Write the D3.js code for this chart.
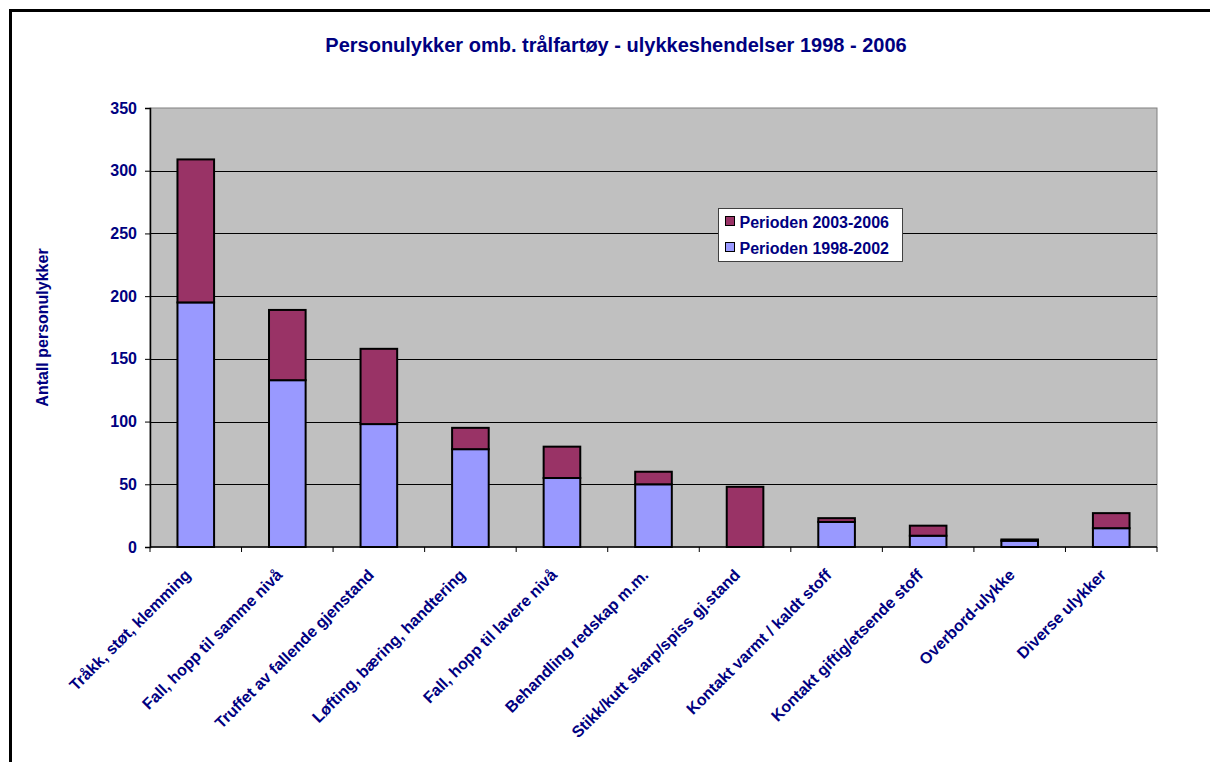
<!DOCTYPE html>
<html>
<head>
<meta charset="utf-8">
<script src="https://cdn.jsdelivr.net/npm/d3@7"></script>
<style>
  body { margin: 0; background: #fff; }
  text { font-family: Arial, "Liberation Sans", sans-serif; font-weight: bold; fill: #000080; }
</style>
</head>
<body>
<script>
// categories and the two periods (stacked)
const categories = [
    "Tråkk, støt, klemming",
    "Fall, hopp til samme nivå",
    "Truffet av fallende  gjenstand",
    "Løfting, bæring, handtering",
    "Fall, hopp til lavere nivå",
    "Behandling redskap m.m.",
    "Stikk/kutt skarp/spiss gj.stand",
    "Kontakt varmt / kaldt stoff",
    "Kontakt giftig/etsende stoff",
    "Overbord-ulykke",
    "Diverse ulykker"
];
const period1998 = [195, 133, 98, 78, 55, 50, 0, 20, 9, 5, 15];
const period2003 = [114, 56, 60, 17, 25, 10, 48, 3, 8, 1, 12];
const yTicks = [0, 50, 100, 150, 200, 250, 300, 350];

const seriesNames = ["Perioden 1998-2002", "Perioden 2003-2006"];
const colors = ["#9999FF", "#993366"];

const W = 1210, H = 762;
const plot = {left: 150, top: 108, right: 1157, bottom: 547};

let svg = d3.select("body").append("svg")
    .attr("width", W)
    .attr("height", H);

// outer chart frame (right and bottom edges run off the picture)
svg.append("rect")
    .attr("x", 10.5).attr("y", 10.5)
    .attr("width", 1260).attr("height", 800)
    .attr("fill", "#fff")
    .attr("stroke", "#000")
    .attr("stroke-width", 3);

svg.append("text")
    .attr("x", 616).attr("y", 52)
    .attr("text-anchor", "middle")
    .style("font-size", "20px")
    .text("Personulykker omb. trålfartøy - ulykkeshendelser 1998 - 2006");

let x = d3.scaleBand()
    .domain(categories)
    .range([plot.left, plot.right])
    .paddingInner(0.6)
    .paddingOuter(0.3);

let y = d3.scaleLinear()
    .domain([0, 350])
    .range([plot.bottom, plot.top]);

// plot background
svg.append("rect")
    .attr("x", plot.left).attr("y", plot.top)
    .attr("width", plot.right - plot.left).attr("height", plot.bottom - plot.top)
    .attr("fill", "#C0C0C0")
    .attr("stroke", "#808080");

// gridlines
svg.append("g").selectAll("line")
    .data(yTicks.filter(d => d > 0 && d < 350))
    .join("line")
    .attr("x1", plot.left).attr("x2", plot.right)
    .attr("y1", d => Math.round(y(d)) + 0.5).attr("y2", d => Math.round(y(d)) + 0.5)
    .attr("stroke", "#000")
    .attr("stroke-width", 1);

// stacked bars
let rows = categories.map((c, i) => ({cat: c, a: period1998[i], b: period2003[i]}));
let stack = d3.stack().keys(["a", "b"])(rows);

svg.append("g").selectAll("g")
    .data(stack)
    .join("g")
    .attr("fill", (d, i) => colors[i])
    .selectAll("rect")
    .data(d => d.filter(s => s[1] - s[0] > 0))
    .join("rect")
    .attr("x", d => x(d.data.cat))
    .attr("y", d => y(d[1]))
    .attr("width", x.bandwidth())
    .attr("height", d => y(d[0]) - y(d[1]))
    .attr("stroke", "#000")
    .attr("stroke-width", 2);

// y axis
let yAxis = svg.append("g")
    .attr("transform", "translate(" + plot.left + ",0)")
    .call(d3.axisLeft(y).tickValues(yTicks).tickSize(5).tickPadding(8));
yAxis.selectAll("text").style("font-size", "16px").attr("fill", "#000080");
yAxis.select(".domain").attr("stroke", "#000").attr("stroke-width", 1.5);

// x axis with ticks at category boundaries
let bounds = d3.range(categories.length + 1).map(i => plot.left + i * (plot.right - plot.left) / categories.length);
svg.append("line")
    .attr("x1", plot.left).attr("x2", plot.right)
    .attr("y1", plot.bottom).attr("y2", plot.bottom)
    .attr("stroke", "#000").attr("stroke-width", 1.5);
svg.append("g").selectAll("line")
    .data(bounds)
    .join("line")
    .attr("x1", d => d).attr("x2", d => d)
    .attr("y1", plot.bottom).attr("y2", plot.bottom + 5)
    .attr("stroke", "#000");

svg.append("g").selectAll("text")
    .data(categories)
    .join("text")
    .attr("text-anchor", "end")
    .style("font-size", "16px")
    .attr("transform", d => "translate(" + (x(d) + x.bandwidth() / 2 - 4) + "," + (plot.bottom + 29) + ") rotate(-45)")
    .text(d => d);

// y axis title
svg.append("text")
    .attr("transform", "translate(48," + ((plot.top + plot.bottom) / 2) + ") rotate(-90)")
    .attr("text-anchor", "middle")
    .style("font-size", "16px")
    .text("Antall personulykker");

// legend
let legend = svg.append("g").attr("transform", "translate(718.5,208.5)");
legend.append("rect")
    .attr("width", 184).attr("height", 53)
    .attr("fill", "#fff").attr("stroke", "#404040");
let items = [1, 0];
legend.selectAll("g.item")
    .data(items)
    .join("g")
    .attr("class", "item")
    .attr("transform", (d, i) => "translate(7," + (8 + i * 26) + ")")
    .each(function(d) {
        let g = d3.select(this);
        g.append("rect").attr("width", 9).attr("height", 9)
            .attr("fill", colors[d]).attr("stroke", "#000");
        g.append("text").attr("x", 14).attr("y", 11)
            .style("font-size", "16px")
            .text(seriesNames[d]);
    });
</script>
</body>
</html>
